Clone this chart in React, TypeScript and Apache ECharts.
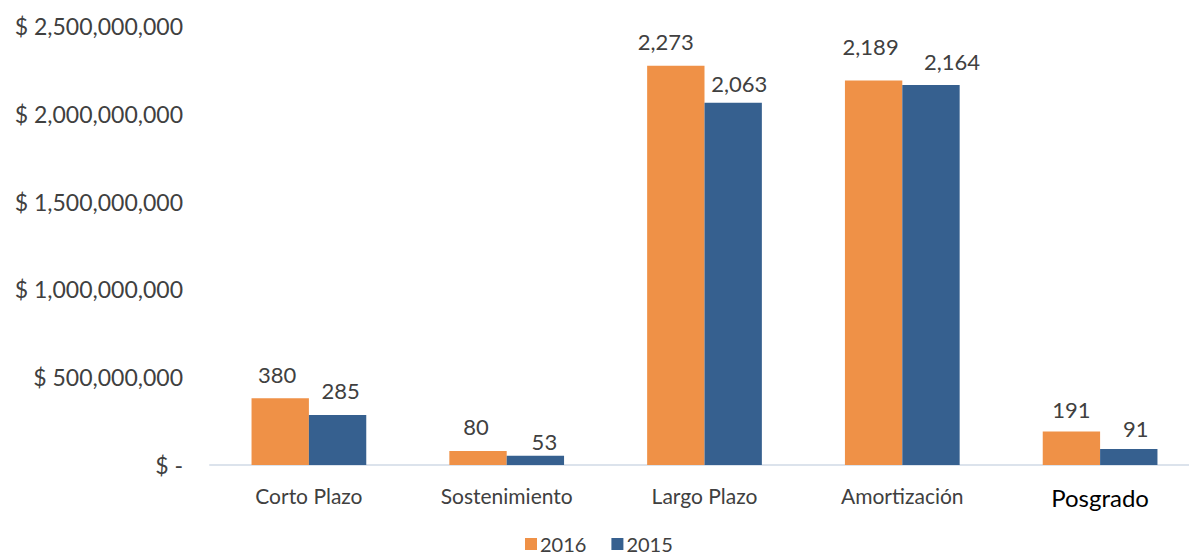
import React, { useEffect, useRef } from "react";
import * as echarts from "echarts";

const categories = ["Corto Plazo", "Sostenimiento", "Largo Plazo", "Amortización", "Posgrado"];
const values2016 = [380, 80, 2273, 2189, 191]; // millions
const values2015 = [285, 53, 2063, 2164, 91]; // millions
const yTicks = [0, 500, 1000, 1500, 2000, 2500]; // millions

// label nudges (style only), [dx, dy] per category
const labelShift2016 = [[-3, 0], [-2, 0], [-10, 0], [-3, -10], [0, 2]];
const labelShift2015 = [[3, 0], [9, 10], [6, 5], [21, 0], [7, 3]];

const FONT = "Lato, 'Open Sans', sans-serif";

export default function App() {
  const ref = useRef<HTMLDivElement>(null);
  useEffect(() => {
    if (!ref.current) return;
    const chart = echarts.init(ref.current, undefined, { renderer: "svg" });
    const labelCfg = {
      show: true,
      position: "top",
      distance: 13,
      color: "#404040",
      fontSize: 22,
      fontFamily: FONT,
      formatter: (p: any) => Number(p.value).toLocaleString("en-US"),
    };
    const withShift = (vals: number[], shifts: number[][]) =>
      vals.map((v, i) => ({ value: v, label: { offset: shifts[i] } }));
    chart.setOption({
      animation: false,
      textStyle: { fontFamily: FONT },
      grid: { left: 210, right: 1, top: 26, bottom: 91, containLabel: false },
      legend: {
        data: ["2016", "2015"],
        left: 525,
        top: 534,
        padding: 0,
        itemWidth: 12,
        itemHeight: 12,
        itemGap: 25,
        icon: "rect",
        textStyle: { color: "#404040", fontSize: 20, lineHeight: 20, fontFamily: FONT, padding: [0, 0, 0, -2] },
      },
      xAxis: {
        type: "category",
        data: categories,
        axisLine: { lineStyle: { color: "#dce3ec", width: 2 } },
        axisTick: { show: false },
        axisLabel: {
          margin: 20,
          color: "#404040",
          fontSize: 21,
          fontFamily: FONT,
          formatter: (v: string) => (v === "Posgrado" ? "{b|" + v + "}" : v),
          rich: { b: { color: "#000000", fontSize: 24, fontFamily: FONT } },
        },
      },
      yAxis: {
        type: "value",
        min: yTicks[0],
        max: yTicks[yTicks.length - 1],
        interval: 500,
        splitLine: { show: false },
        axisLine: { show: false },
        axisTick: { show: false },
        axisLabel: {
          margin: 27,
          color: "#404040",
          fontSize: 23,
          fontFamily: FONT,
          formatter: (v: number) => (v === 0 ? "$ -" : "$ " + (v * 1e6).toLocaleString("en-US")),
        },
      },
      series: [
        {
          name: "2016",
          type: "bar",
          data: withShift(values2016, labelShift2016),
          itemStyle: { color: "#ef9147" },
          barGap: "0%",
          barCategoryGap: "42%",
          label: labelCfg,
        },
        {
          name: "2015",
          type: "bar",
          data: withShift(values2015, labelShift2015),
          itemStyle: { color: "#36608f" },
          label: labelCfg,
        },
      ],
    });
    return () => chart.dispose();
  }, []);
  return (
    <div style={{ width: 1189, height: 556, position: "absolute", left: 0, top: 0, overflow: "hidden" }}>
      <div ref={ref} style={{ width: 1200, height: 556 }} />
    </div>
  );
}
